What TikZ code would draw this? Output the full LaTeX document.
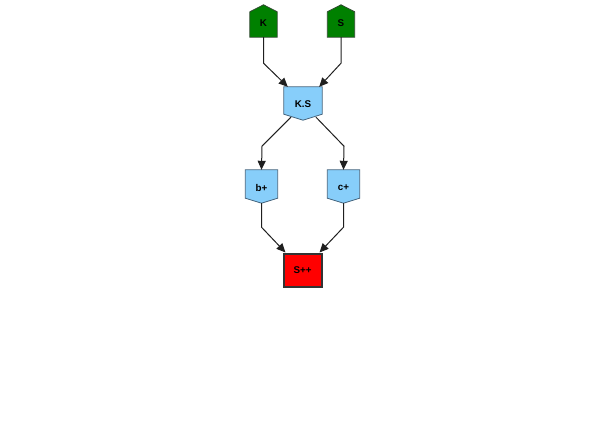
\documentclass[tikz,border=0pt]{standalone}
\usepackage{fontspec}
\setmainfont{Liberation Sans}
\usetikzlibrary{arrows.meta,calc}
\definecolor{leafgreen}{HTML}{008000}
\definecolor{leafedge}{HTML}{2E4A2E}
\definecolor{skyfill}{HTML}{87CEFA}
\definecolor{skyedge}{HTML}{46657E}
\definecolor{sinkred}{HTML}{FF0000}
\definecolor{sinkedge}{HTML}{333333}
\tikzset{
  base/.style={inner sep=0pt, font=\bfseries\fontsize{9.8}{11}\selectfont},
  frame/.style={base, minimum width=#1},
  housefill/.style={draw=leafedge, fill=leafgreen, line width=0.8pt},
  shieldfill/.style={draw=skyedge, fill=skyfill, line width=0.8pt},
  sink/.style={base, draw=sinkedge, fill=sinkred, line width=2pt,
    minimum width=38pt, minimum height=33pt},
  link/.style={line width=1pt, draw=black!88, -{Triangle[length=9pt,width=8pt]}}
}
% pentagon with a peak above the node box
\newcommand\housepoly[2]{%
  \filldraw[housefill] (#1.south west) -- (#1.south east)
    -- (#1.north east) -- ([yshift=#2]#1.north) -- (#1.north west) -- cycle;}
% pentagon with a point below the node box
\newcommand\shieldpoly[2]{%
  \filldraw[shieldfill] (#1.north west) -- (#1.north east)
    -- (#1.south east) -- ([yshift=-#2]#1.south) -- (#1.south west) -- cycle;}
\begin{document}
\begin{tikzpicture}[x=1pt, y=-1pt]
  \useasboundingbox (0,0) rectangle (605,439);
  % node boxes
  \node[frame=27pt, minimum height=25pt] (K) at (263.5,24.5) {};
  \node[frame=27pt, minimum height=25pt] (S) at (341,24.5) {};
  \node[frame=38pt, minimum height=27pt] (KS) at (303,100.5) {};
  \node[frame=32pt, minimum height=28pt] (B) at (261.5,184) {};
  \node[frame=32pt, minimum height=28pt] (C) at (343.5,184) {};
  \node[sink] (SPP) at (302.5,270) {};
  % outlines
  \housepoly{K}{7pt}
  \housepoly{S}{7pt}
  \shieldpoly{KS}{6pt}
  \shieldpoly{B}{5pt}
  \shieldpoly{C}{5pt}
  % labels
  \node[base] at ([yshift=1.5pt]K.center) {K};
  \node[base] at ([yshift=1.5pt]S.center) {S};
  \node[base] at ([yshift=-3.5pt]KS.center) {K.S};
  \node[base] at ([yshift=-3.5pt]B.center) {b+};
  \node[base] at ([yshift=-3.5pt]C.center) {c+};
  \node[base] at (SPP) {S++};
  % connectors
  \draw[link] (K.south) -- ++(0,26) -- ([xshift=4pt]KS.north west);
  \draw[link] (S.south) -- ++(0,26) -- ([xshift=-3pt]KS.north east);
  \draw[link] ([xshift=-12pt,yshift=-3pt]KS.south) -- ++(-29,29) -- (B.north);
  \draw[link] ([xshift=13pt,yshift=-3pt]KS.south) -- ++(28,29) -- (C.north);
  \draw[link] ([yshift=-5pt]B.south) -- ++(0,24) -- ([xshift=3pt]SPP.north west);
  \draw[link] ([yshift=-5pt]C.south) -- ++(0,24) -- ([xshift=-3pt]SPP.north east);
\end{tikzpicture}
\end{document}
